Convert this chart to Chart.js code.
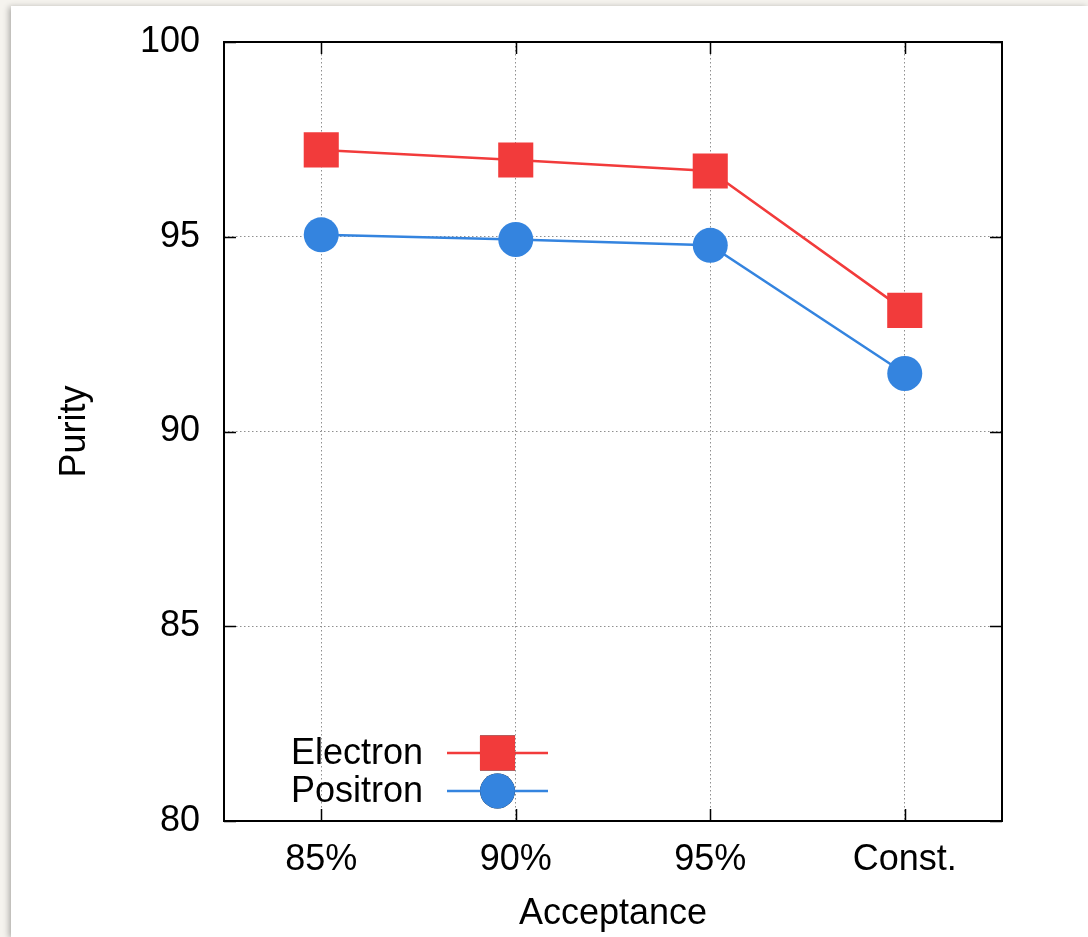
<!DOCTYPE html>
<html>
<head>
<meta charset="utf-8">
<title>Purity vs acceptance</title>
<script src="https://cdn.jsdelivr.net/npm/chart.js@4/dist/chart.umd.min.js"></script>
<style>
  html, body { margin: 0; padding: 0; width: 1088px; height: 937px; overflow: hidden; background: #f5f3ee; }
  #sheet { position: absolute; left: 11px; top: 6px; right: 0; bottom: 0; background: #ffffff;
           box-shadow: -2px 1px 6px rgba(0, 0, 0, 0.30); }
  #wrap { position: absolute; left: 0; top: 0; width: 1088px; height: 937px; }
</style>
</head>
<body>
<div id="sheet"></div>
<div id="wrap"><canvas id="c" width="1088" height="937"></canvas></div>
<script>
// Purity (%) per acceptance working point
const categories = ['85%', '90%', '95%', 'Const.'];
const electronPurity = [97.23, 96.97, 96.69, 93.11];
const positronPurity = [95.05, 94.93, 94.78, 91.49];
const yMin = 80;
const yMax = 100;
const yStep = 5;

const FONT = "'Liberation Sans', Arial, Helvetica, sans-serif";
const RED = '#f23b3b';
const BLUE = '#3484df';

// Black frame with gnuplot-style inward tick marks on all four sides
const framePlugin = {
  id: 'frame',
  afterDraw(chart) {
    const {ctx, chartArea: a, scales} = chart;
    const tick = 12;
    ctx.save();
    ctx.strokeStyle = '#000';
    ctx.lineWidth = 1.5;
    ctx.beginPath();
    scales.x.ticks.forEach((t, i) => {
      const x = Math.round(scales.x.getPixelForTick(i)) + 0.5;
      ctx.moveTo(x, a.bottom); ctx.lineTo(x, a.bottom - tick);
      ctx.moveTo(x, a.top); ctx.lineTo(x, a.top + tick);
    });
    scales.y.ticks.forEach(t => {
      const y = Math.round(scales.y.getPixelForValue(t.value)) + 0.5;
      ctx.moveTo(a.left, y); ctx.lineTo(a.left + tick, y);
      ctx.moveTo(a.right, y); ctx.lineTo(a.right - tick, y);
    });
    ctx.stroke();
    ctx.lineWidth = 2;
    ctx.strokeRect(a.left, a.top, a.right - a.left, a.bottom - a.top);
    ctx.restore();
  }
};

// Key in the lower-left corner: right-aligned text, then a line sample with its marker
const keyPlugin = {
  id: 'key',
  afterDatasetsDraw(chart) {
    const {ctx, chartArea: a} = chart;
    const textRight = a.left + 199;
    const lineX0 = a.left + 223;
    const lineX1 = a.left + 324;
    const rowH = 38;
    const firstRow = a.bottom - 68;
    ctx.save();
    chart.data.datasets.forEach((ds, i) => {
      const y = firstRow + i * rowH;
      ctx.fillStyle = '#000';
      ctx.font = '36px ' + FONT;
      ctx.textAlign = 'right';
      ctx.textBaseline = 'middle';
      ctx.fillText(ds.label, textRight, y + 1);
      ctx.strokeStyle = ds.borderColor;
      ctx.lineWidth = ds.borderWidth;
      ctx.beginPath();
      ctx.moveTo(lineX0, y); ctx.lineTo(lineX1, y);
      ctx.stroke();
      Chart.helpers.drawPoint(ctx, {
        pointStyle: ds.pointStyle,
        radius: ds.pointRadius,
        borderWidth: 0,
        rotation: 0
      }, (lineX0 + lineX1) / 2, y);
      ctx.fillStyle = ds.pointBackgroundColor;
      ctx.fill();
    });
    ctx.restore();
  }
};

new Chart(document.getElementById('c'), {
  type: 'line',
  data: {
    labels: categories,
    datasets: [
      {
        label: 'Electron',
        data: electronPurity,
        borderColor: RED,
        backgroundColor: RED,
        pointBackgroundColor: RED,
        pointBorderColor: RED,
        borderWidth: 2.5,
        pointStyle: 'rect',
        pointRadius: 24.8,
        pointBorderWidth: 0,
        tension: 0
      },
      {
        label: 'Positron',
        data: positronPurity,
        borderColor: BLUE,
        backgroundColor: BLUE,
        pointBackgroundColor: BLUE,
        pointBorderColor: BLUE,
        borderWidth: 2.5,
        pointStyle: 'circle',
        pointRadius: 17.5,
        pointBorderWidth: 0,
        tension: 0
      }
    ]
  },
  options: {
    responsive: false,
    animation: false,
    events: [],
    layout: { padding: { top: 42, right: 86, bottom: 0, left: 0 } },
    plugins: {
      legend: { display: false },
      tooltip: { enabled: false }
    },
    scales: {
      x: {
        type: 'category',
        offset: true,
        grid: { display: true, offset: false, color: '#8f8f8f', lineWidth: 1, drawTicks: false },
        border: { display: false, dash: [1.5, 2.5] },
        ticks: { color: '#000', font: { family: FONT, size: 36 }, padding: 17, maxRotation: 0 },
        title: { display: true, text: 'Acceptance', color: '#000',
                 font: { family: FONT, size: 36 }, padding: { top: 0, bottom: 1 } },
        afterFit(scale) { scale.height = 116; }
      },
      y: {
        min: yMin,
        max: yMax,
        grid: { color: '#8f8f8f', lineWidth: 1, drawTicks: false },
        border: { display: false, dash: [1.5, 2.5] },
        ticks: { stepSize: yStep, color: '#000', font: { family: FONT, size: 36 }, padding: 24 },
        title: { display: true, text: 'Purity', color: '#000',
                 font: { family: FONT, size: 36 }, padding: { top: 53, bottom: 0 } },
        afterFit(scale) {
          scale.width = 224;
          // the outer margin already leaves room for the end labels
          scale.paddingTop = 0;
          scale.paddingBottom = 0;
        }
      }
    }
  },
  plugins: [framePlugin, keyPlugin]
});
</script>
</body>
</html>
